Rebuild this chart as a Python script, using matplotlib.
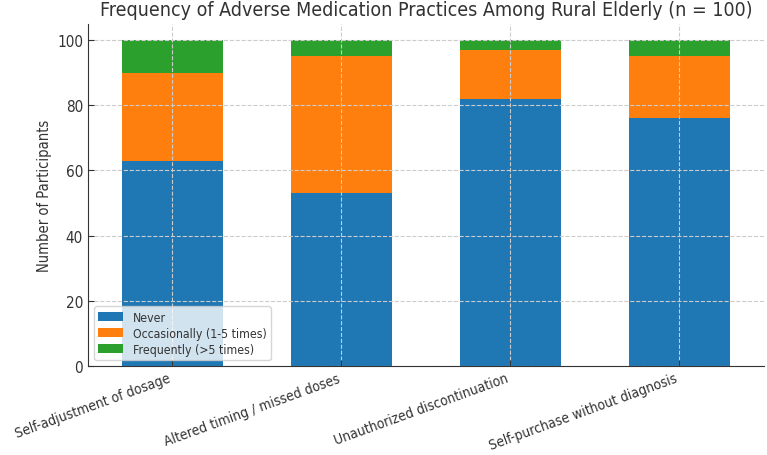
import matplotlib
matplotlib.use("Agg")
import matplotlib.pyplot as plt
from matplotlib import font_manager
import numpy as np

categories = ["Self-adjustment of dosage", "Altered timing / missed doses",
              "Unauthorized discontinuation", "Self-purchase without diagnosis"]
never = [63, 53, 82, 76]
occasionally = [27, 42, 15, 19]
frequently = [10, 5, 3, 5]
series_labels = ["Never", "Occasionally (1-5 times)", "Frequently (>5 times)"]
colors = ["#1f77b4", "#ff7f0e", "#2ca02c"]

names = {f.name for f in font_manager.fontManager.ttflist}
if "DejaVu Sans Condensed" in names:
    plt.rcParams["font.family"] = ["DejaVu Sans Condensed", "DejaVu Sans"]
else:
    plt.rcParams["font.family"] = ["DejaVu Sans"]
    plt.rcParams["font.stretch"] = "condensed"
plt.rcParams["text.color"] = "#333333"
plt.rcParams["axes.labelcolor"] = "#333333"
plt.rcParams["xtick.color"] = "#333333"
plt.rcParams["ytick.color"] = "#333333"
plt.rcParams["axes.edgecolor"] = "#333333"

fig, ax = plt.subplots(figsize=(7.67, 4.56), dpi=100)
x = np.arange(len(categories))
bottom = np.zeros(len(categories))
for vals, lab, c in zip([never, occasionally, frequently], series_labels, colors):
    ax.bar(x, vals, 0.6, bottom=bottom, label=lab, color=c)
    bottom += np.array(vals)

ax.set_xlim(-0.5, 3.5)
ax.set_ylim(0, 105)
ax.set_xticks(x)
ax.set_xticklabels(categories, rotation=20, ha="right", fontsize=10)
ax.tick_params(axis="y", labelsize=11)
ax.tick_params(direction="in", length=4)
ax.set_ylabel("Number of Participants", fontsize=10.5)
ax.set_title("Frequency of Adverse Medication Practices Among Rural Elderly (n = 100)", fontsize=14)
ax.grid(True, linestyle="--", color="#cccccc", linewidth=0.8)
ax.spines["top"].set_visible(False)
ax.spines["right"].set_visible(False)
ax.legend(loc="lower left", fontsize=8.8, labelspacing=0.25, borderpad=0.35,
          handlelength=2.0, borderaxespad=0.5)
fig.subplots_adjust(left=0.1147, right=0.996, top=0.946, bottom=0.195)
fig.savefig("out.png")
